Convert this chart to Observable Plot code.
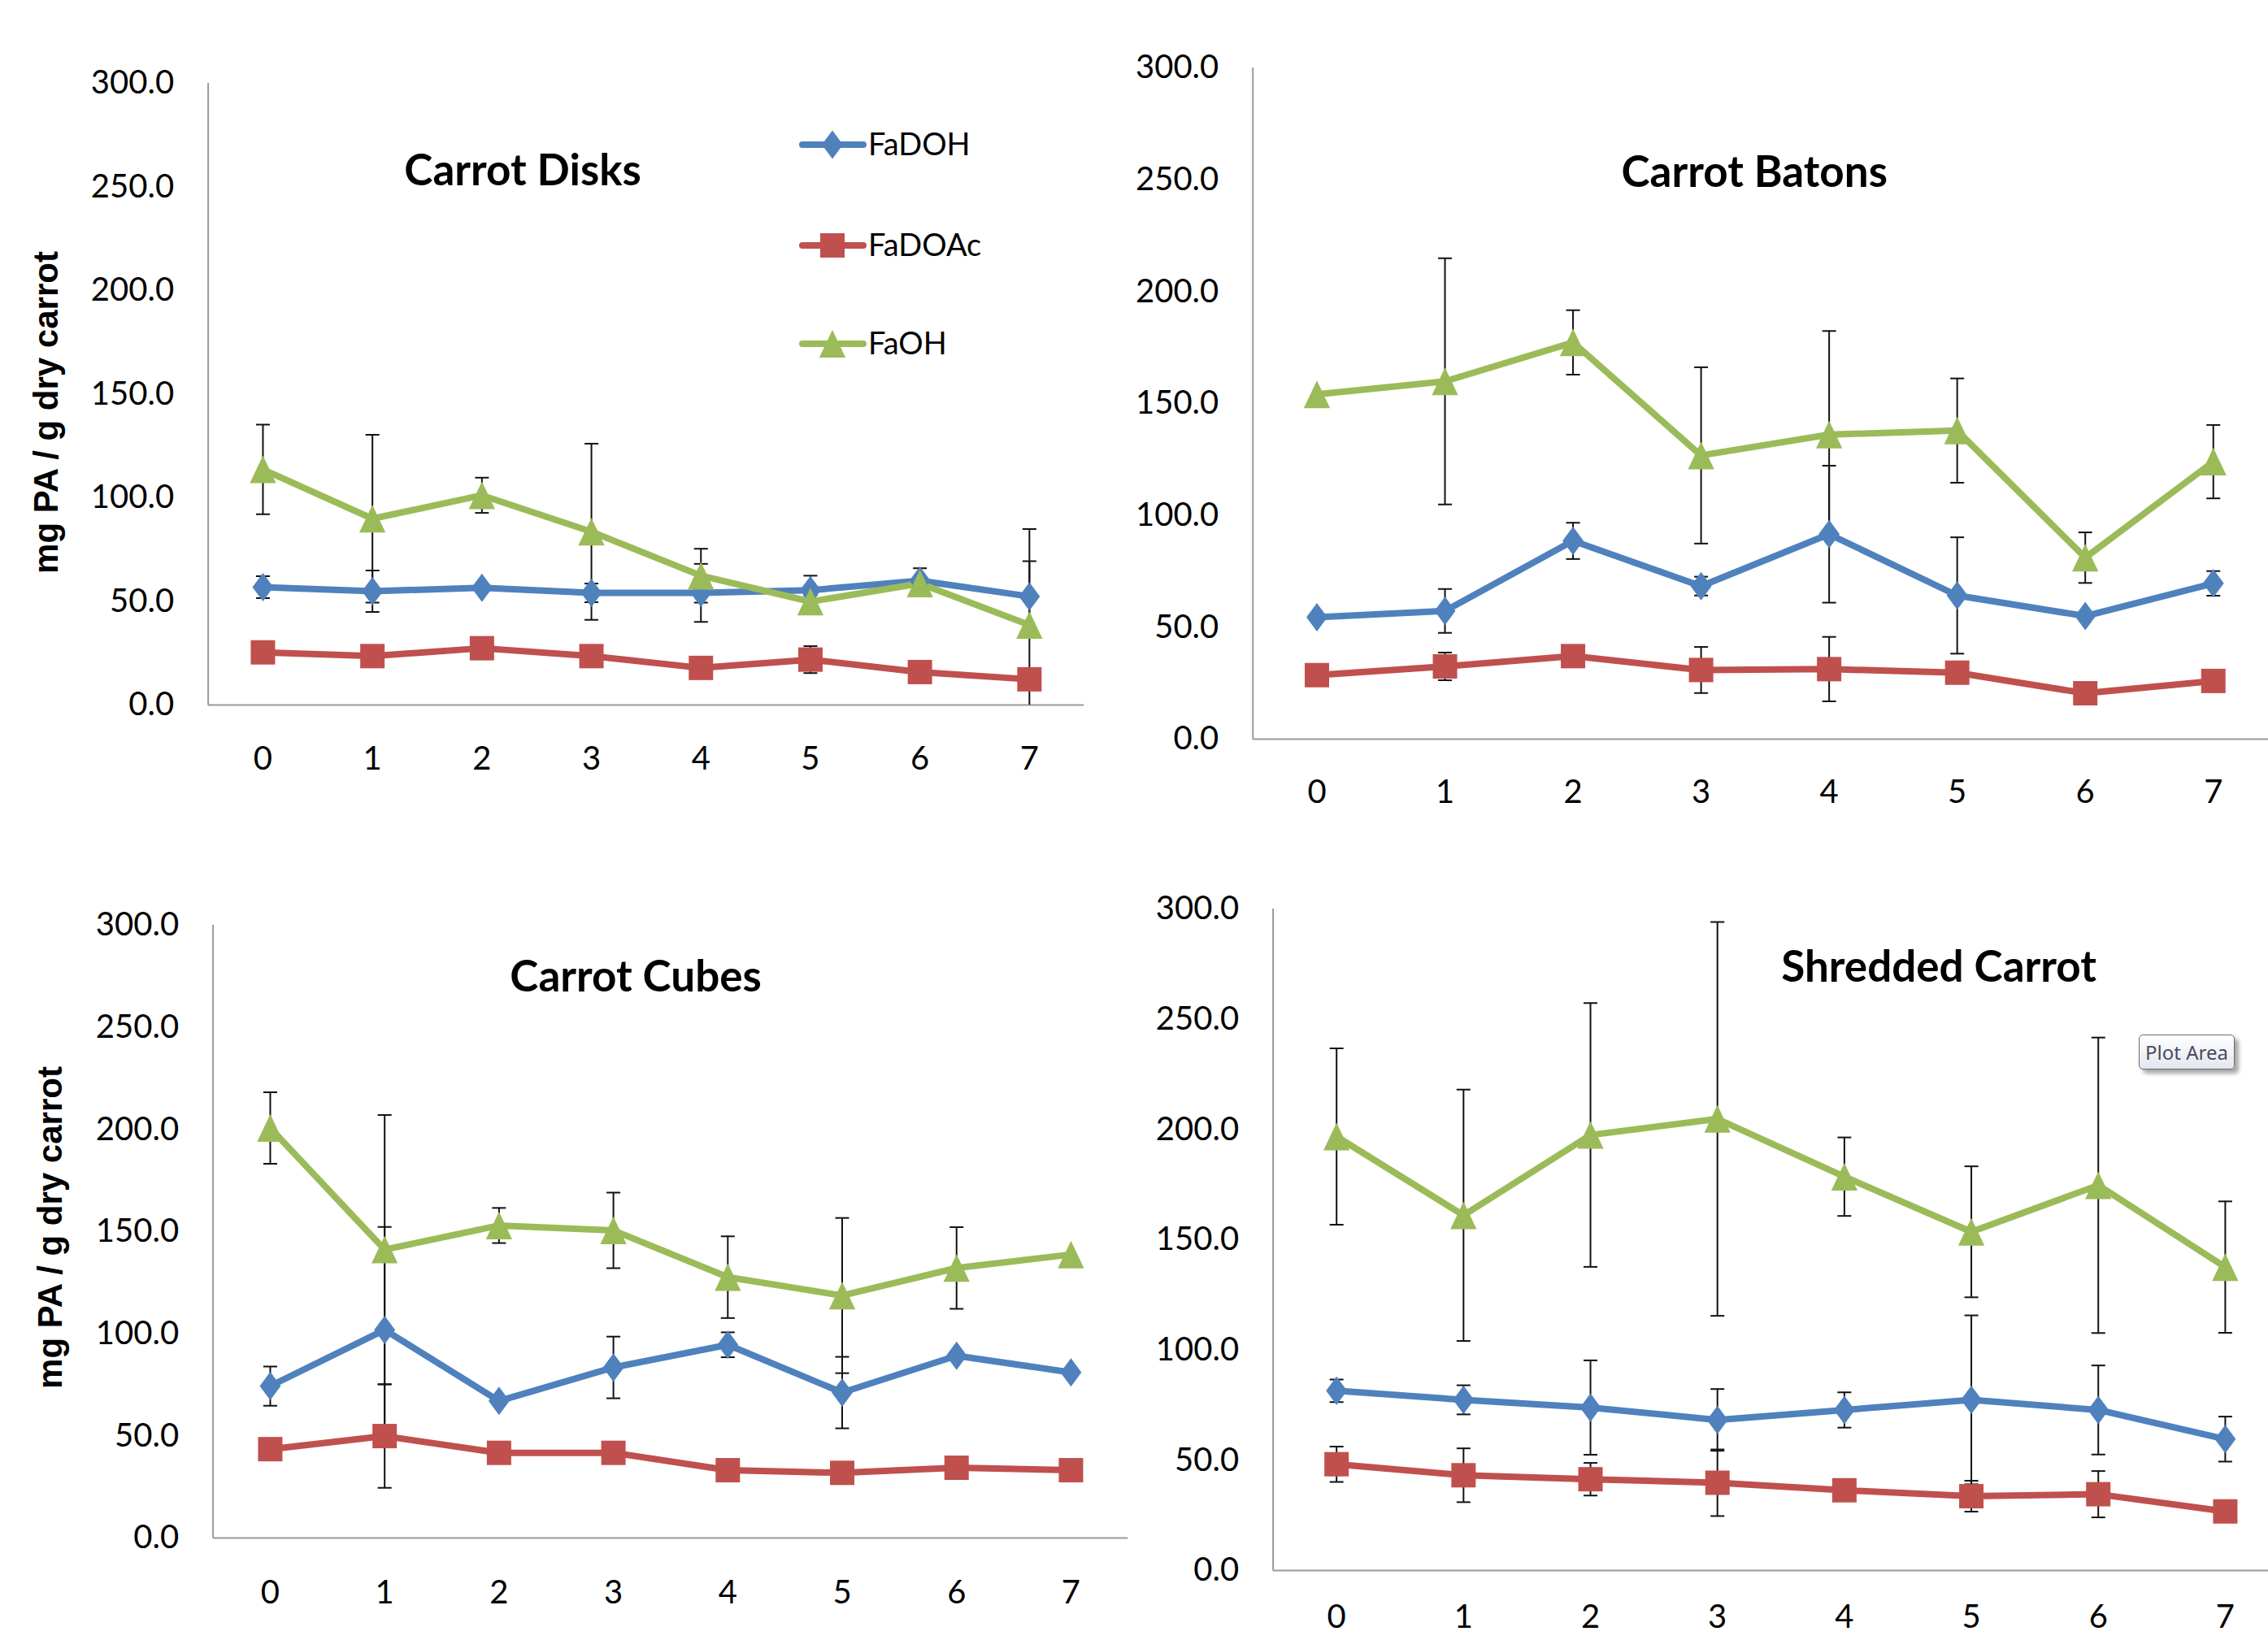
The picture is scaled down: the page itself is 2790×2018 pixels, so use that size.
<!DOCTYPE html>
<html>
<head>
<meta charset="utf-8">
<script src="https://cdn.jsdelivr.net/npm/d3@7"></script>
<script src="https://cdn.jsdelivr.net/npm/@observablehq/plot@0.6"></script>
<style>
html, body { margin: 0; padding: 0; background: #fff; overflow: hidden; width: 2790px; height: 2018px; }
#root { position: relative; width: 2790px; height: 2018px; overflow: hidden; background: #fff; }
.panel { position: absolute; }
#tip { position: absolute; left: 2631px; top: 1273px; width: 118px; height: 43px; box-sizing: border-box;
  border: 1.5px solid #6b6b6b; border-radius: 5px; background: linear-gradient(#ffffff, #e4e6f0);
  box-shadow: 5px 5px 5px rgba(0,0,0,0.35); font-family: "Noto Sans"; font-size: 24px; color: #4a4a58;
  display: flex; align-items: center; justify-content: center; }
</style>
</head>
<body>
<div id="root"></div>
<script>
// ---------- data ----------
const days = [0, 1, 2, 3, 4, 5, 6, 7];
const seriesNames = ["FaDOH", "FaDOAc", "FaOH"];
const seriesColors = ["#4F81BD", "#C0504D", "#9BBB59"];
const yTicks = [0, 50, 100, 150, 200, 250, 300];
const panelTitles = ["Carrot Disks", "Carrot Batons", "Carrot Cubes", "Shredded Carrot"];
const yAxisLabel = "mg PA / g dry carrot";

// Carrot Disks
const disksFaDOH   = [56.9, 54.9, 56.6, 54.1, 54.1, 55.4, 60.0, 52.4];
const disksFaDOAc  = [25.4, 23.6, 27.4, 23.6, 17.9, 21.9, 15.9, 12.4];
const disksFaOH    = [113.7, 89.9, 101.2, 83.6, 62.4, 49.9, 58.6, 38.6];
const disksFaDOHErr  = [5.3, 10.0, 0, 4.5, 14.0, 7.0, 6.0, 17.0];
const disksFaDOAcErr = [0, 0, 0, 0, 0, 6.5, 0, 0];
const disksFaOHErr   = [21.6, 40.5, 8.5, 42.5, 13.0, 3.0, 3.0, 46.3];

// Carrot Batons
const batonsFaDOH  = [54.5, 57.3, 88.6, 68.4, 91.6, 64.2, 55.0, 69.6];
const batonsFaDOAc = [28.6, 32.5, 37.1, 30.9, 31.3, 29.7, 20.5, 26.0];
const batonsFaOH   = [154.1, 159.9, 177.3, 126.8, 136.1, 137.9, 81.1, 124.0];
const batonsFaDOHErr  = [0, 9.8, 8.1, 4.2, 30.6, 26.0, 0, 5.5];
const batonsFaDOAcErr = [0, 6.2, 0, 10.3, 14.4, 0, 0, 0];
const batonsFaOHErr   = [0, 55.0, 14.4, 39.4, 46.3, 23.3, 11.3, 16.4];

// Carrot Cubes
const cubesFaDOH  = [74.4, 101.9, 67.1, 83.5, 94.6, 71.2, 89.2, 81.1];
const cubesFaDOAc = [43.5, 49.9, 41.7, 41.7, 33.2, 31.9, 34.4, 33.2];
const cubesFaOH   = [200.7, 141.2, 153.0, 150.6, 127.7, 118.7, 132.2, 138.8];
const cubesFaDOHErr  = [9.6, 50.4, 0, 15.1, 6.1, 17.5, 0, 0];
const cubesFaDOAcErr = [0, 25.3, 0, 0, 0, 0, 0, 0];
const cubesFaOHErr   = [17.5, 65.9, 8.6, 18.5, 20.0, 38.0, 20.0, 0];

// Shredded Carrot
const shreddedFaDOH  = [81.5, 77.4, 73.9, 68.3, 72.8, 77.4, 72.8, 59.6];
const shreddedFaDOAc = [48.2, 43.2, 41.4, 39.8, 36.4, 33.7, 34.6, 26.8];
const shreddedFaOH   = [196.8, 161.1, 197.5, 204.8, 178.6, 153.6, 174.7, 137.6];
const shreddedFaDOHErr  = [5.1, 6.6, 21.4, 14.0, 8.0, 38.3, 20.2, 10.2];
const shreddedFaDOAcErr = [8.0, 12.2, 7.4, 15.1, 0, 7.0, 10.5, 0];
const shreddedFaOHErr   = [40.0, 57.0, 59.8, 89.3, 17.8, 29.7, 67.0, 29.8];

const panelValues = [
  [disksFaDOH, disksFaDOAc, disksFaOH],
  [batonsFaDOH, batonsFaDOAc, batonsFaOH],
  [cubesFaDOH, cubesFaDOAc, cubesFaOH],
  [shreddedFaDOH, shreddedFaDOAc, shreddedFaOH]
];
const panelErrors = [
  [disksFaDOHErr, disksFaDOAcErr, disksFaOHErr],
  [batonsFaDOHErr, batonsFaDOAcErr, batonsFaOHErr],
  [cubesFaDOHErr, cubesFaDOAcErr, cubesFaOHErr],
  [shreddedFaDOHErr, shreddedFaDOAcErr, shreddedFaOHErr]
];

// ---------- marker symbols ----------
const diamondSym = { draw(ctx, size) { const r = Math.sqrt(size / Math.PI), w = r * 0.74;
  ctx.moveTo(0, -r); ctx.lineTo(w, 0); ctx.lineTo(0, r); ctx.lineTo(-w, 0); ctx.closePath(); } };
const squareSym = { draw(ctx, size) { const r = Math.sqrt(size / Math.PI); ctx.rect(-r, -r, 2 * r, 2 * r); } };
const triangleSym = { draw(ctx, size) { const r = Math.sqrt(size / Math.PI);
  ctx.moveTo(0, -r); ctx.lineTo(r * 0.95, r); ctx.lineTo(-r * 0.95, r); ctx.closePath(); } };
const capSym = { draw(ctx, size) { const r = Math.sqrt(size / Math.PI); ctx.moveTo(-r, 0); ctx.lineTo(r, 0); } };
const seriesSymbols = [diamondSym, squareSym, triangleSym];
const seriesSizes = [17.5, 15, 17];

// ---------- layout ----------
const layouts = [
  {left: 0,    top: 0,    width: 1395, height: 1009, mL: 255.6,  mR: 61.8, mT: 102, mB: 142, pad: 51, title: [387, 109], ylabel: [-199, 405]},
  {left: 1395, top: 0,    width: 1406, height: 1009, mL: 145.75, mR: 0,    mT: 83,  mB: 100, pad: 50, title: [617, 130]},
  {left: 0,    top: 1009, width: 1395, height: 1009, mL: 261.6,  mR: 7.7,  mT: 129, mB: 126, pad: 52, title: [520, 65], ylabel: [-200, 372]},
  {left: 1395, top: 1009, width: 1420, height: 1009, mL: 170.6,  mR: 0,    mT: 109, mB: 86,  pad: 42, title: [819, 73]}
];

const root = document.getElementById("root");

layouts.forEach((L, p) => {
  const rows = [];
  seriesNames.forEach((s, si) => {
    days.forEach((d, i) => rows.push({day: d, series: s, si, value: panelValues[p][si][i], err: panelErrors[p][si][i]}));
  });
  const bars = rows.filter(d => d.err > 0);
  const caps = bars.flatMap(d => [{day: d.day, y: d.value + d.err}, {day: d.day, y: d.value - d.err}]);

  const marks = [
    Plot.axisY({ticks: yTicks, tickSize: 0, tickPadding: 42, tickFormat: d3.format(".1f"), label: null}),
    Plot.axisX({ticks: days, tickSize: 0, tickPadding: L.pad, tickFormat: d => String(d), label: null}),
    Plot.ruleX([-0.5], {y1: 0, y2: 300, stroke: "#9a9a9a", strokeWidth: 2}),
    Plot.ruleY([0], {stroke: "#9a9a9a", strokeWidth: 2}),
    Plot.line(rows, {x: "day", y: "value", z: "series", stroke: "series", strokeWidth: 8,
      strokeLinejoin: "round", strokeLinecap: "round"}),
    Plot.ruleX(bars, {x: "day", y1: d => d.value - d.err, y2: d => d.value + d.err, stroke: "#111", strokeWidth: 2, clip: true}),
    Plot.dot(caps, {x: "day", y: "y", symbol: capSym, r: 8.5, fill: "none", stroke: "#111", strokeWidth: 2, clip: true}),
    ...seriesNames.map((s, si) => Plot.dot(rows.filter(d => d.si === si), {
      x: "day", y: "value", symbol: seriesSymbols[si], r: seriesSizes[si], fill: seriesColors[si], stroke: "none"})),
    Plot.text([panelTitles[p]], {text: d => d, frameAnchor: "top-left", dx: L.title[0], dy: L.title[1],
      textAnchor: "middle", lineAnchor: "middle", fontSize: 53, fontWeight: "bold", fill: "#000"})
  ];
  if (L.ylabel) {
    marks.push(Plot.text([yAxisLabel], {text: d => d, frameAnchor: "top-left", dx: L.ylabel[0], dy: L.ylabel[1],
      rotate: -90, textAnchor: "middle", lineAnchor: "middle", fontFamily: "Liberation Sans",
      fontWeight: "bold", fontSize: 42, fill: "#000"}));
  }

  const chart = Plot.plot({
    width: L.width, height: L.height,
    marginLeft: L.mL, marginRight: L.mR, marginTop: L.mT, marginBottom: L.mB,
    style: {fontFamily: "Lato", fontSize: "40px", color: "#000", background: "transparent",
      maxWidth: "none", overflow: "visible"},
    x: {type: "linear", domain: [-0.5, 7.5]},
    y: {type: "linear", domain: [0, 300]},
    color: {domain: seriesNames, range: seriesColors},
    marks
  });
  chart.classList.add("panel");
  chart.style.left = L.left + "px";
  chart.style.top = L.top + "px";
  root.appendChild(chart);
});

// ---------- legend (inside the Carrot Disks panel) ----------
const legendRows = [178, 302, 423];
const leg = d3.select(root).append("svg").attr("class", "panel")
  .style("left", "960px").style("top", "130px").attr("width", 330).attr("height", 340);
seriesNames.forEach((s, si) => {
  const y = legendRows[si] - 130;
  leg.append("line").attr("x1", 27).attr("x2", 102).attr("y1", y).attr("y2", y)
    .attr("stroke", seriesColors[si]).attr("stroke-width", 8).attr("stroke-linecap", "round");
  leg.append("path").attr("transform", `translate(64,${y})`)
    .attr("d", d3.symbol(seriesSymbols[si], Math.PI * seriesSizes[si] * seriesSizes[si])())
    .attr("fill", seriesColors[si]);
  leg.append("text").attr("x", 108).attr("y", y).attr("dy", "0.35em")
    .attr("font-family", "Lato").attr("font-size", 38).attr("fill", "#000").text(s);
});

// Excel "Plot Area" hover tip visible in the original picture
const tip = document.createElement("div");
tip.id = "tip";
tip.textContent = "Plot Area";
root.appendChild(tip);
</script>
</body>
</html>
